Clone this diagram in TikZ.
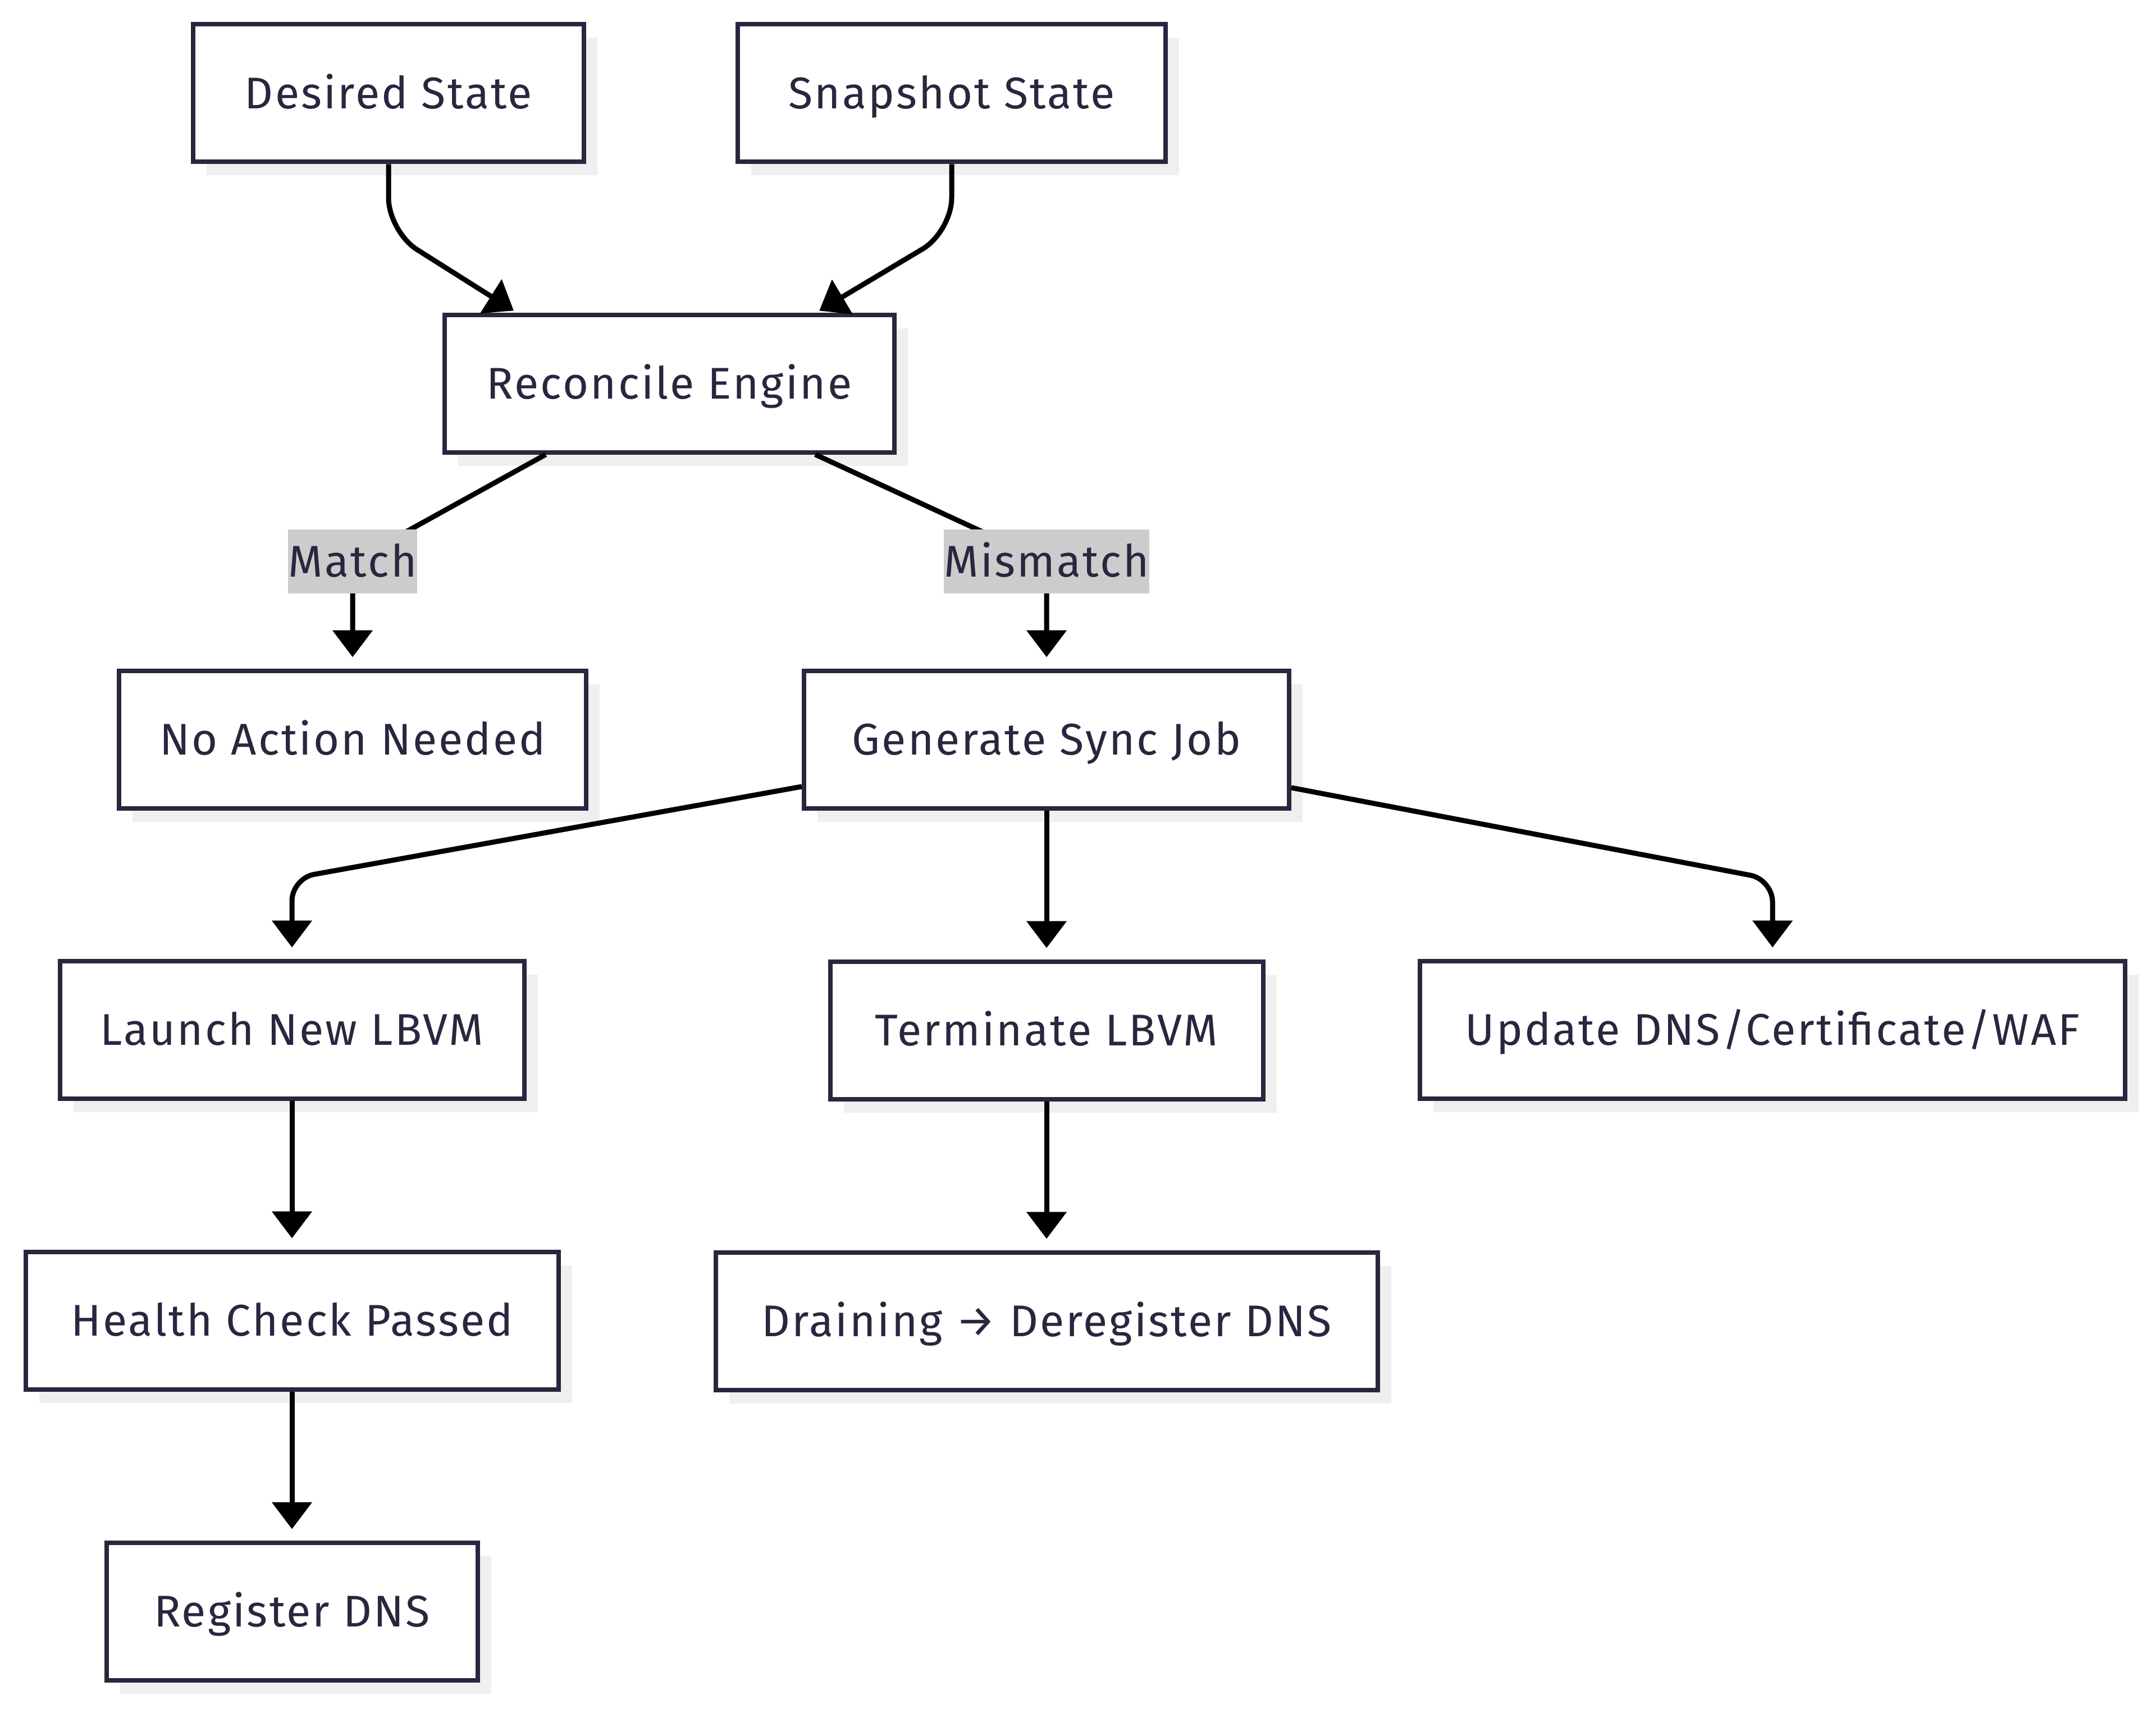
\documentclass[tikz,border=0pt]{standalone}
\usepackage{fontspec}
\setmainfont{Fira Sans}[LetterSpace=4]
\usetikzlibrary{
  arrows.meta,
  positioning,
  shadows
}
\definecolor{syncink}{HTML}{27273F}
\definecolor{syncshade}{HTML}{EFEFEF}
\definecolor{syncgray}{HTML}{CCCCCC}

\begin{document}
\begin{tikzpicture}[
  node distance=26.5mm,
  stage/.style={
    rectangle, draw=syncink, line width=0.8mm, fill=white,
    minimum height=24.5mm, text=syncink,
    text height=15.5pt, text depth=0pt,
    font=\fontsize{22.5}{27}\selectfont,
    drop shadow={shadow xshift=2.4mm, shadow yshift=-2.4mm,
      fill=syncshade, opacity=1}
  },
  verdict/.style={
    fill=syncgray, text=syncink, inner xsep=0pt, inner ysep=0pt,
    text height=15.5pt, text depth=0pt,
    minimum height=11.4mm, font=\fontsize{22.5}{27}\selectfont
  },
  flow/.style={
    -{Triangle[length=4.8mm, width=7mm]}, line width=0.9mm,
    draw=black, shorten >=2mm
  }
]

% canvas
\fill[white] (0,0) rectangle (38.4,-30.43);
\useasboundingbox (0,0) rectangle (38.4,-30.43);

% Inputs
\node[stage, minimum width=69.6mm] (desired) at (6.92,-1.66) {Desired State};
\node[stage, minimum width=76.2mm] (snapshot) at (16.95,-1.66) {Snapshot State};

% Engine and outcome
\node[stage, minimum width=80.1mm] (engine) at (11.92,-6.83) {Reconcile Engine};
\node[stage, minimum width=83.2mm] (noaction) at (6.28,-13.17) {No Action Needed};
\node[stage, minimum width=86.4mm] (syncjob) at (18.64,-13.17) {Generate Sync Job};

% Sync actions
\node[stage, minimum width=82.7mm] (launch) at (5.20,-18.34) {Launch New LBVM};
\node[stage, minimum width=77.1mm, below=of syncjob] (terminate) {Terminate LBVM};
\node[stage, minimum width=125.6mm] (update) at (31.57,-18.34) {Update DNS/Certificate/WAF};

% Follow-up steps
\node[stage, minimum width=94.9mm, below=of launch] (health) {Health Check Passed};
\node[stage, minimum width=117.9mm, below=of terminate] (drain) {Draining → Deregister DNS};
\node[stage, minimum width=66.1mm, below=of health] (register) {Register DNS};

% Inputs into engine
\draw[flow, rounded corners=6mm, shorten >=0.6mm]
  (desired.south) -- ++(0,-1.2) -- ([xshift=-2.72cm]engine.north);
\draw[flow, rounded corners=6mm, shorten >=0.6mm]
  (snapshot.south) -- ++(0,-1.2) -- ([xshift=2.62cm]engine.north);

% Engine decision
\draw[flow] ([xshift=-2.2cm]engine.south) -- (6.28,-10.0)
  node[verdict, minimum width=23mm] {Match} -- (noaction.north);
\draw[flow] ([xshift=2.6cm]engine.south) -- (18.64,-10.0)
  node[verdict, minimum width=36mm] {Mismatch} -- (syncjob.north);

% Sync job fan-out
\draw[flow, rounded corners=4mm]
  ([yshift=-0.84cm]syncjob.west) -- ([yshift=1.43cm]launch.north) -- (launch.north);
\draw[flow] (syncjob) -- (terminate);
\draw[flow, rounded corners=4mm]
  ([yshift=-0.86cm]syncjob.east) -- ([yshift=1.41cm]update.north) -- (update.north);

% Chains
\draw[flow] (launch) -- (health);
\draw[flow] (health) -- (register);
\draw[flow] (terminate) -- (drain);

\end{tikzpicture}
\end{document}
